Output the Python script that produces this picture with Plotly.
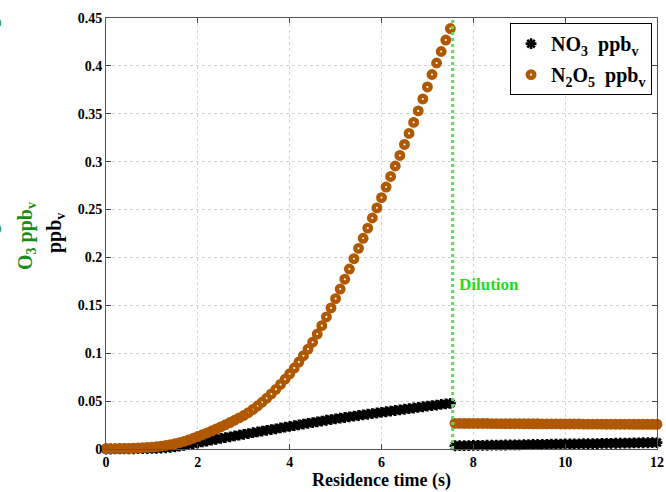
import plotly.graph_objects as go

# ---- data ----
time_pre = [0.0, 0.1, 0.2, 0.3, 0.4, 0.5, 0.6, 0.7, 0.8, 0.9,
            1.0, 1.1, 1.2, 1.3, 1.4, 1.5, 1.6, 1.7, 1.8, 1.9,
            2.0, 2.1, 2.2, 2.3, 2.4, 2.5, 2.6, 2.7, 2.8, 2.9,
            3.0, 3.1, 3.2, 3.3, 3.4, 3.5, 3.6, 3.7, 3.8, 3.9,
            4.0, 4.1, 4.2, 4.3, 4.4, 4.5, 4.6, 4.7, 4.8, 4.9,
            5.0, 5.1, 5.2, 5.3, 5.4, 5.5, 5.6, 5.7, 5.8, 5.9,
            6.0, 6.1, 6.2, 6.3, 6.4, 6.5, 6.6, 6.7, 6.8, 6.9,
            7.0, 7.1, 7.2, 7.3, 7.4, 7.5]

no3_pre = [0.0000, 0.0000, 0.0001, 0.0001, 0.0001, 0.0002, 0.0002, 0.0003, 0.0004, 0.0005,
           0.0006, 0.0008, 0.0010, 0.0013, 0.0017, 0.0022, 0.0029, 0.0037, 0.0046, 0.0055,
           0.0065, 0.0074, 0.0083, 0.0092, 0.0101, 0.0110, 0.0119, 0.0127, 0.0136, 0.0144,
           0.0153, 0.0161, 0.0170, 0.0178, 0.0187, 0.0195, 0.0203, 0.0211, 0.0220, 0.0228,
           0.0236, 0.0244, 0.0252, 0.0260, 0.0268, 0.0276, 0.0284, 0.0292, 0.0300, 0.0307,
           0.0315, 0.0322, 0.0329, 0.0336, 0.0343, 0.0350, 0.0357, 0.0363, 0.0370, 0.0376,
           0.0383, 0.0389, 0.0396, 0.0402, 0.0409, 0.0415, 0.0421, 0.0428, 0.0434, 0.0441,
           0.0447, 0.0453, 0.0459, 0.0465, 0.0471, 0.0477]

n2o5_pre = [0.0003, 0.0003, 0.0004, 0.0005, 0.0006, 0.0007, 0.0009, 0.0011, 0.0014, 0.0017,
            0.0020, 0.0025, 0.0030, 0.0037, 0.0045, 0.0055, 0.0067, 0.0080, 0.0095, 0.0112,
            0.0130, 0.0149, 0.0168, 0.0188, 0.0209, 0.0230, 0.0253, 0.0276, 0.0300, 0.0325,
            0.0350, 0.0380, 0.0413, 0.0449, 0.0488, 0.0530, 0.0575, 0.0623, 0.0674, 0.0728,
            0.0785, 0.0845, 0.0908, 0.0974, 0.1043, 0.1115, 0.1200, 0.1288, 0.1379, 0.1473,
            0.1570, 0.1670, 0.1773, 0.1879, 0.1987, 0.2095, 0.2200, 0.2306, 0.2412, 0.2518,
            0.2625, 0.2735, 0.2845, 0.2955, 0.3065, 0.3180, 0.3295, 0.3410, 0.3530, 0.3655,
            0.3780, 0.3910, 0.4030, 0.4150, 0.4270, 0.4390]

time_post = [7.6, 7.7, 7.8, 7.9, 8.0, 8.1, 8.2, 8.3, 8.4, 8.5,
             8.6, 8.7, 8.8, 8.9, 9.0, 9.1, 9.2, 9.3, 9.4, 9.5,
             9.6, 9.7, 9.8, 9.9, 10.0, 10.1, 10.2, 10.3, 10.4, 10.5,
             10.6, 10.7, 10.8, 10.9, 11.0, 11.1, 11.2, 11.3, 11.4, 11.5,
             11.6, 11.7, 11.8, 11.9, 12.0]

no3_post = [0.0034, 0.0035, 0.0035, 0.0036, 0.0037, 0.0038, 0.0038, 0.0039, 0.0040, 0.0041,
            0.0041, 0.0042, 0.0043, 0.0044, 0.0044, 0.0045, 0.0046, 0.0047, 0.0047, 0.0048,
            0.0049, 0.0050, 0.0050, 0.0051, 0.0052, 0.0053, 0.0053, 0.0054, 0.0055, 0.0056,
            0.0056, 0.0057, 0.0058, 0.0059, 0.0059, 0.0060, 0.0061, 0.0062, 0.0062, 0.0063,
            0.0064, 0.0065, 0.0065, 0.0066, 0.0067]

n2o5_post = [0.0268, 0.0268, 0.0267, 0.0267, 0.0267, 0.0266, 0.0266, 0.0266, 0.0265, 0.0265,
             0.0265, 0.0264, 0.0264, 0.0264, 0.0264, 0.0263, 0.0263, 0.0263, 0.0263, 0.0262,
             0.0262, 0.0262, 0.0262, 0.0261, 0.0261, 0.0261, 0.0261, 0.0261, 0.0260, 0.0260,
             0.0260, 0.0260, 0.0260, 0.0259, 0.0259, 0.0259, 0.0259, 0.0259, 0.0259, 0.0258,
             0.0258, 0.0258, 0.0258, 0.0258, 0.0258]

dilution_time = 7.55
x_ticks = [0, 2, 4, 6, 8, 10, 12]
y_ticks = [0, 0.05, 0.1, 0.15, 0.2, 0.25, 0.3, 0.35, 0.4, 0.45]
y_tick_labels = ["0", "0.05", "0.1", "0.15", "0.2", "0.25", "0.3", "0.35", "0.4", "0.45"]

# ---- figure ----
FONT = "Liberation Serif, Times New Roman, serif"
BROWN = "#b05800"
GREEN_LINE = "#55e055"
DARK_GREEN = "#178f17"

no3_marker = dict(symbol="asterisk-open", size=9, color="black",
                  line=dict(color="black", width=2.6))
n2o5_marker = dict(symbol="circle-open", size=6.5, color=BROWN,
                   line=dict(color=BROWN, width=4.4))

fig = go.Figure()
fig.add_trace(go.Scatter(x=time_pre, y=no3_pre, mode="markers", marker=no3_marker,
                         name="<b>NO<sub>3</sub>  ppb<sub>v</sub></b>", legendgroup="no3",
                         cliponaxis=False))
fig.add_trace(go.Scatter(x=time_post, y=no3_post, mode="markers", marker=no3_marker,
                         showlegend=False, legendgroup="no3", cliponaxis=False))
fig.add_trace(go.Scatter(x=time_pre, y=n2o5_pre, mode="markers", marker=n2o5_marker,
                         name="<b>N<sub>2</sub>O<sub>5</sub>  ppb<sub>v</sub></b>",
                         legendgroup="n2o5", cliponaxis=False))
fig.add_trace(go.Scatter(x=time_post, y=n2o5_post, mode="markers", marker=n2o5_marker,
                         showlegend=False, legendgroup="n2o5", cliponaxis=False))

fig.add_shape(type="line", xref="x", yref="paper", x0=dilution_time, x1=dilution_time,
              y0=0, y1=1, line=dict(color=GREEN_LINE, width=3, dash="dot"), layer="above")

fig.add_annotation(x=dilution_time, y=0.172, xref="x", yref="y", text="<b>Dilution</b>",
                   showarrow=False, xanchor="left", yanchor="middle", xshift=4,
                   font=dict(family=FONT, size=17, color="#22dd22"))

# y-axis titles
fig.add_annotation(x=-51 / 551, y=(449 - 233) / 431, xref="paper", yref="paper",
                   text="<b>ppb<sub>v</sub></b>", textangle=-90, showarrow=False,
                   xanchor="center", yanchor="middle",
                   font=dict(family=FONT, size=20, color="black"))
fig.add_annotation(x=-80 / 551, y=(449 - 236) / 431, xref="paper", yref="paper",
                   text="<b>O<sub>3</sub> ppb<sub>v</sub></b>", textangle=-90, showarrow=False,
                   xanchor="center", yanchor="middle",
                   font=dict(family=FONT, size=20, color=DARK_GREEN))
# clipped green tick-label fragments at far left
for yp in [22, 228]:
    fig.add_annotation(x=-108 / 551, y=(449 - yp) / 431, xref="paper", yref="paper",
                       text="0", showarrow=False, xanchor="center", yanchor="middle",
                       font=dict(family=FONT, size=13, color=DARK_GREEN))

fig.update_layout(
    width=666, height=492,
    margin=dict(l=106, r=9, t=18, b=43),
    paper_bgcolor="white", plot_bgcolor="white",
    font=dict(family=FONT, color="black"),
    showlegend=True,
    legend=dict(x=0.991, y=0.988, xanchor="right", yanchor="top",
                bgcolor="white", bordercolor="black", borderwidth=1,
                font=dict(family=FONT, size=20, color="black"),
                tracegroupgap=2),
    xaxis=dict(range=[0, 12], tickvals=x_ticks, ticktext=["<b>%d</b>" % t for t in x_ticks],
               ticks="inside", ticklen=5, automargin=False,
               showline=True, linecolor="#555", linewidth=1, mirror="ticks",
               showgrid=True, gridcolor="#d4d4d4", griddash="dot", zeroline=False,
               tickfont=dict(family=FONT, size=14, color="black"),
               title=dict(text="<b>Residence time (s)</b>", standoff=2,
                          font=dict(family=FONT, size=18, color="black"))),
    yaxis=dict(range=[0, 0.45], tickvals=y_ticks, ticktext=["<b>%s</b>" % t for t in y_tick_labels],
               ticks="inside", ticklen=5, automargin=False,
               showline=True, linecolor="#555", linewidth=1, mirror="ticks",
               showgrid=True, gridcolor="#d4d4d4", griddash="dot", zeroline=False,
               tickfont=dict(family=FONT, size=14, color="black")),
)

fig.write_html("out.html")
